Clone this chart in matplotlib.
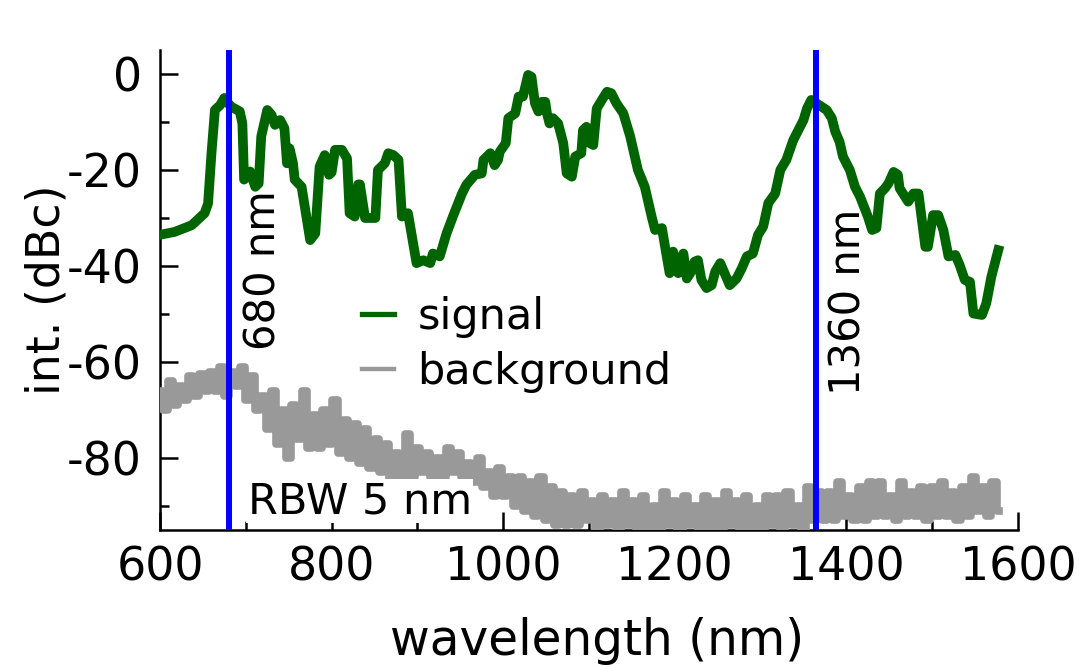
import numpy as np
import matplotlib
matplotlib.use("Agg")
import matplotlib.pyplot as plt
from matplotlib.ticker import MultipleLocator

# signal trace (wavelength nm, intensity dBc)
sig_nm = [600, 617, 637, 652, 656, 660, 664, 670, 675, 677, 683, 693, 696, 698,
          705, 711, 715, 718, 725, 730, 734, 740, 745, 748, 751, 755, 757, 765,
          775, 781, 786, 792, 797, 800, 804, 812, 818, 821, 827, 831, 833, 839,
          851, 854, 862, 866, 872, 878, 882, 889, 899, 907, 915, 918, 926, 934,
          942, 952, 957, 967, 975, 977, 985, 990, 994, 996, 1003, 1006, 1014,
          1018, 1023, 1029, 1033, 1037, 1041, 1045, 1049, 1051, 1054, 1058,
          1064, 1070, 1074, 1080, 1084, 1091, 1093, 1097, 1101, 1105, 1109,
          1115, 1121, 1126, 1132, 1140, 1148, 1157, 1165, 1173, 1177, 1185,
          1190, 1194, 1198, 1204, 1210, 1214, 1218, 1223, 1227, 1231, 1237,
          1243, 1247, 1253, 1258, 1264, 1272, 1278, 1284, 1291, 1297, 1303,
          1309, 1317, 1323, 1330, 1338, 1350, 1354, 1359, 1365, 1377, 1383,
          1387, 1392, 1396, 1404, 1410, 1416, 1425, 1430, 1435, 1439, 1445,
          1449, 1455, 1460, 1462, 1472, 1478, 1484, 1492, 1495, 1501, 1507,
          1513, 1519, 1527, 1532, 1538, 1544, 1548, 1558, 1563, 1569, 1577]
sig_db = [-33.5, -32.9, -31.5, -29, -27, -16.5, -7.5, -6.5, -5, -5.6, -6.8,
          -7.8, -10.3, -22, -20.3, -23.5, -22.8, -13, -7.5, -8.5, -10.6, -9.6,
          -11.3, -18.6, -15.5, -18.6, -22, -23.5, -34.6, -33.2, -19.3, -16.9,
          -21, -20.5, -15.8, -15.8, -17.6, -29, -29.7, -23, -23, -30, -30, -20,
          -18.6, -16.5, -16.9, -17.9, -29.7, -29, -39.4, -38.8, -39.4, -37.4,
          -38, -33.2, -29.4, -24.9, -23.1, -21, -20.7, -17.9, -16.5, -19, -17.9,
          -16.2, -14.4, -9.2, -8.2, -4.7, -4.7, -0.2, -0.6, -6.1, -7.8, -5.8,
          -5.8, -8.2, -10.3, -9.2, -10.3, -14.4, -20.7, -21.4, -17.2, -16.5,
          -11.7, -11, -14.4, -14.8, -7.2, -5.4, -3.7, -4, -6.1, -8.2, -13, -20,
          -23.5, -29.7, -32.5, -32.1, -37.4, -41.5, -37, -41.5, -37.4, -42.6,
          -41.5, -39.1, -38.8, -42.9, -44.6, -44, -41.2, -39.4, -41.5, -44,
          -42.6, -40.5, -38, -37.4, -33.5, -31.8, -26.9, -24.9, -20, -17.9,
          -13.8, -9.6, -7.2, -5.4, -6.1, -7.5, -9.2, -12, -14.1, -17.2, -20,
          -23.5, -25.6, -29.7, -32.5, -32.1, -24.9, -23.8, -22.8, -20.4, -21,
          -23.8, -26.6, -24.9, -24.9, -36, -36, -29.4, -29.4, -32.5, -38,
          -37.7, -39.8, -42.9, -43.3, -49.9, -50.2, -47.8, -42.2, -36.7]

# background trace, sampled every 6 nm from 600 nm
bg_start = 600
bg_step = 6
bg_db = [-66, -70, -64, -69, -65, -68, -63, -67, -62.5, -66,
         -62, -66, -61, -67, -62, -65, -61, -68, -63, -70,
         -67, -74, -66, -77, -70, -80, -69, -76, -66, -78,
         -71, -78, -70, -77, -68, -79, -72, -80, -73, -81,
         -74, -82, -76, -83, -77, -85, -79, -84, -75, -84,
         -78, -83, -79, -84, -80, -84, -78, -83, -79, -84,
         -81, -85, -80, -86, -83, -88, -82, -88, -84, -90,
         -84, -91, -85, -92, -84, -93, -86, -94, -87, -94,
         -88, -94, -87, -93, -89, -95, -88, -94, -89, -95,
         -87, -94, -89, -95, -88, -95, -90, -95, -87, -94,
         -89, -95, -88, -94, -90, -95, -88, -95, -89, -95,
         -87, -94, -89, -95, -88, -95, -90, -95, -88, -94,
         -88, -95, -87, -94, -90, -95, -86, -93, -87, -93,
         -87, -93, -85, -92, -88, -93, -86, -93, -85, -92,
         -85, -92, -88, -93, -85, -92, -87, -92, -86, -93,
         -86, -92, -85, -92, -87, -93, -86, -92, -84, -91,
         -86, -92, -85, -91]
bg_nm = bg_start + bg_step * np.arange(len(bg_db))

markers_nm = [680, 1364]
marker_labels = ["680 nm", "1360 nm"]

plt.rcParams['axes.unicode_minus'] = False
plt.rcParams['font.family'] = ['DejaVu Sans']

fig = plt.figure(figsize=(10.82, 6.67), dpi=100)
ax = fig.add_axes([160 / 1082, 1 - 530 / 667, 858 / 1082, 480 / 667])

ax.plot(sig_nm, sig_db, color='#006400', lw=7, solid_joinstyle='round',
        label='signal', zorder=3)
ax.plot(bg_nm, bg_db, color='#999999', lw=5.5, drawstyle='steps-mid',
        label='background', zorder=3)
for x in markers_nm:
    ax.axvline(x, color='#0000ff', lw=4.3, zorder=4)

ax.set_xlim(600, 1600)
ax.set_ylim(-95, 5)
for side in ('top', 'right'):
    ax.spines[side].set_visible(False)
for side in ('left', 'bottom'):
    ax.spines[side].set_linewidth(1.8)

ax.xaxis.set_major_locator(MultipleLocator(200))
ax.xaxis.set_minor_locator(MultipleLocator(100))
ax.yaxis.set_major_locator(MultipleLocator(20))
ax.yaxis.set_minor_locator(MultipleLocator(10))
ax.tick_params(which='both', direction='in', width=1.8, labelsize=33)
ax.tick_params(which='major', length=13)
ax.tick_params(which='minor', length=6.5)
ax.tick_params(axis='x', pad=11)
ax.tick_params(axis='y', pad=13)

ax.set_xlabel('wavelength (nm)', fontsize=35, labelpad=19)
ax.xaxis.label.set_x(0.509)
ax.set_ylabel('int. (dBc)', fontsize=33, labelpad=-2)

ax.text(721, -57.5, marker_labels[0], rotation=90, fontsize=30,
        ha='center', va='bottom')
ax.text(1403, -66.9, marker_labels[1], rotation=90, fontsize=30,
        ha='center', va='bottom')
ax.text(702, -91.5, 'RBW 5 nm', fontsize=31, ha='left', va='baseline',
        zorder=3.5, bbox=dict(facecolor='white', edgecolor='none', pad=1))

leg = ax.legend(loc='upper left', bbox_to_anchor=(0.235, 0.487), frameon=False,
                fontsize=31, borderpad=0, borderaxespad=0, handlelength=0.75,
                handletextpad=0.55, labelspacing=0.3)
leg.get_lines()[0].set_linewidth(3.8)
leg.get_lines()[1].set_linewidth(3.2)

fig.savefig('out.png', dpi=100)
